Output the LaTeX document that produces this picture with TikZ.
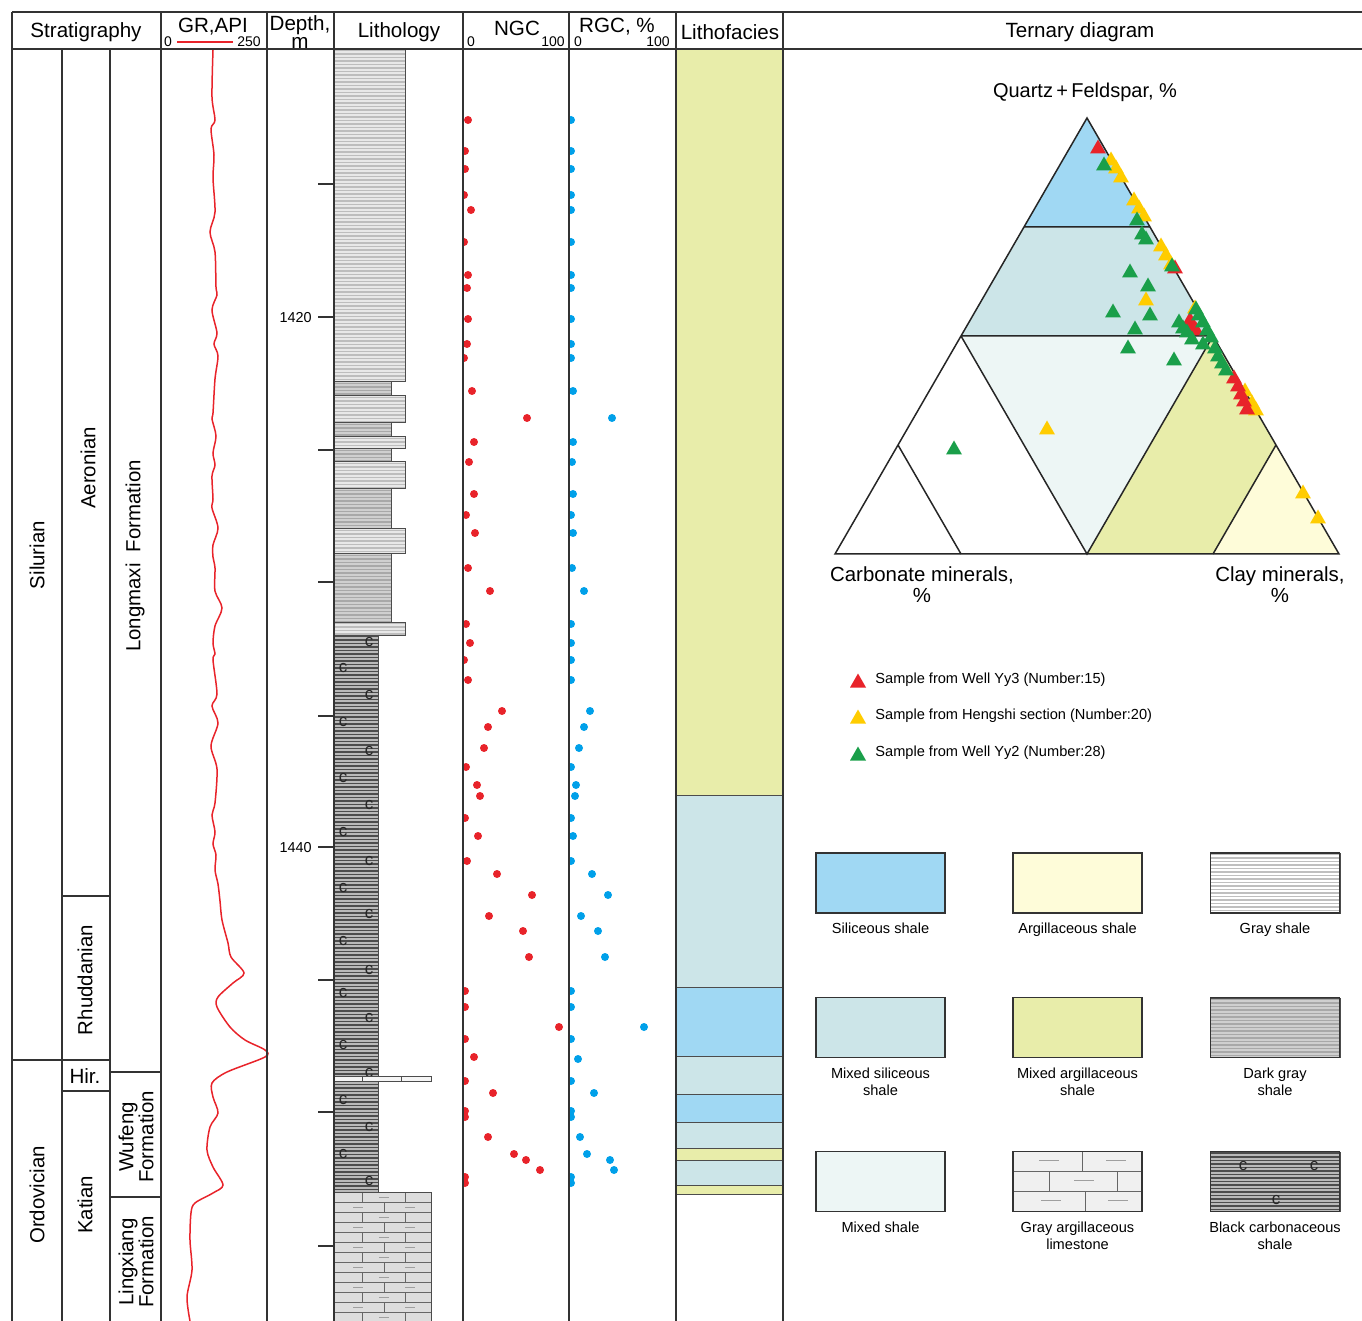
\documentclass[tikz,border=0pt]{standalone}
\usepackage{fontspec}
\setmainfont{Liberation Sans}
\usetikzlibrary{positioning}

\definecolor{silic}{HTML}{A0D8F3}
\definecolor{mixsil}{HTML}{CCE5E8}
\definecolor{mixsh}{HTML}{EDF6F5}
\definecolor{argil}{HTML}{FEFCD9}
\definecolor{mixarg}{HTML}{E8EDAA}
\definecolor{grred}{HTML}{E8232A}
\definecolor{rgcblue}{HTML}{00A0E9}
\definecolor{wellgreen}{HTML}{1A9F4A}
\definecolor{hsyellow}{HTML}{FFCC00}
\definecolor{limegray}{HTML}{DDDDDD}

\tikzset{
    frame/.style={draw=black!80, line width=0.75pt},
    bedline/.style={draw=black!70, line width=0.5pt},
    tline/.style={draw=black!85, line width=0.75pt},
    head/.style={font=\fontsize{10.3}{11}\selectfont, inner sep=0pt},
    scalenum/.style={font=\fontsize{7}{8}\selectfont, inner sep=0pt},
    depthnum/.style={font=\fontsize{7.2}{8}\selectfont, inner sep=0pt},
    unitname/.style={font=\fontsize{10.2}{10}\selectfont, inner sep=0pt, rotate=90, align=center},
    legtext/.style={font=\fontsize{7.3}{8.6}\selectfont, align=center, inner sep=0pt},
    legbox/.style={draw=black!80, line width=0.9pt, minimum width=64.5pt, minimum height=30pt, inner sep=0pt},
    cmark/.style={font=\fontsize{8.5}{9}\selectfont, inner sep=0pt, text=black!85},
    dot/.style={radius=2pt}
}

\newcommand{\shalebed}[6]{%
    \begin{scope}
        \clip (#1,#2) rectangle (#3,#4);
        \fill[#5] (#1,#2) rectangle (#3,#4);
        \pgfmathtruncatemacro{\shn}{(#4-#2-1)/3.5}
        \foreach \k in {0,...,\shn}
            \draw[#6, line width=0.6pt] (#1,#2+1.5+3.5*\k) -- (#3,#2+1.5+3.5*\k);
    \end{scope}
    \draw[bedline] (#1,#2) rectangle (#3,#4);
}
\newcommand{\samplemark}[3]{\fill[#1] (#2-8,#3+5.5) -- (#2+8,#3+5.5) -- (#2,#3-8.5) -- cycle;}

\begin{document}
\begin{tikzpicture}[x=0.5pt, y=-0.5pt]
\useasboundingbox (0,0) rectangle (1362,1321);

\foreach \ya/\yb/\fc in {49/795/mixarg, 795/987/mixsil, 987/1056/silic, 1056/1094/mixsil, 1094/1122/silic,
    1122/1148/mixsil, 1148/1160/mixarg, 1160/1185/mixsil, 1185/1194/mixarg}
    \draw[bedline, fill=\fc] (676,\ya) rectangle (783,\yb);

\foreach \ya/\yb in {49/382, 396/423, 437/449, 462/489, 529/554, 622/635}
    {\shalebed{334}{\ya}{405}{\yb}{gray!18}{gray!52}}
\foreach \ya/\yb in {382/396, 423/437, 449/462, 489/529, 554/622}
    {\shalebed{334}{\ya}{391}{\yb}{gray!38}{gray!68}}
\shalebed{334}{635}{378}{1192}{gray!55}{black!70}
\foreach \yy [count=\i] in {642, 695, 751, 805, 861, 914, 970, 1018, 1073, 1127, 1181}
    \node[cmark] (cr\i) at (369,\yy) {c};
\foreach \yy [count=\i] in {668, 722, 778, 832, 888, 941, 993, 1045, 1100, 1154}
    \node[cmark] (cl\i) at (343,\yy) {c};
\draw[bedline, fill=gray!8] (334,1076) rectangle (431,1081);
\draw[bedline] (362,1076) -- (362,1081) (401,1076) -- (401,1081);

\fill[limegray] (334,1192) rectangle (431,1330);
\foreach \yy in {1192,1202,...,1312}
    \draw[bedline, draw=black!60] (334,\yy) -- (431,\yy);
\foreach \yy in {1192,1212,...,1312} {
    \draw[bedline, draw=black!60] (362,\yy) -- (362,\yy+10) (405,\yy) -- (405,\yy+10);
    \draw[gray!75, line width=0.5pt] (379,\yy+5) -- (389,\yy+5);
}
\foreach \yy in {1202,1222,...,1302} {
    \draw[bedline, draw=black!60] (384,\yy) -- (384,\yy+10);
    \draw[gray!75, line width=0.5pt] (353,\yy+5) -- (363,\yy+5) (405,\yy+5) -- (415,\yy+5);
}
\draw[bedline] (334,1192) rectangle (431,1330);

\draw[grred, line width=0.75pt] plot[smooth, tension=0.5] coordinates {
    (213,50) (212,97) (215,120) (211,129) (214,155) (213,178) (215,212) (210,232) (215,252)
    (216,287) (217,295) (212,310) (217,333) (214,344) (218,356) (215,379) (213,413) (212,419)
    (216,436) (213,453) (215,465) (212,476) (213,499) (212,508) (218,528) (213,545) (213,557)
    (215,568) (215,591) (222,608) (215,626) (213,643) (215,654) (213,660) (217,694) (212,706)
    (218,723) (211,746) (217,769) (215,803) (212,815) (215,832) (213,844) (216,855) (215,870)
    (218,884) (220,901) (222,920) (228,943) (231,957) (244,973) (233,983) (218,997) (217,1007)
    (230,1027) (245,1040) (265,1050) (265,1057) (227,1072) (212,1083) (213,1097) (218,1113)
    (210,1127) (207,1150) (213,1167) (223,1185) (213,1193) (195,1203) (191,1213) (190,1240)
    (192,1270) (187,1297) (190,1321)};

\begin{scope}
    \clip (463.5,49) rectangle (569,1321);
    \foreach \dx/\dy in {468/120, 465/151, 465/169, 464/195, 471/210, 464/242, 468/275, 467/288, 468/319,
        467/344, 464/358, 472/391, 527/418, 474/442, 469/462, 474/494, 466/515, 475/533, 468/568, 490/591,
        466/624, 470/643, 464/660, 468/680, 502/711, 488/727, 484/748, 466/767, 477/785, 480/796, 465/818,
        478/836, 467/861, 497/874, 532/895, 489/916, 523/931, 529/957, 465/991, 465/1007, 559/1027,
        465/1039, 474/1057, 465/1081, 493/1093, 465/1111, 465/1117, 488/1137, 514/1154, 526/1160,
        540/1170, 465/1177, 465/1183}
        \fill[grred] (\dx,\dy) circle[dot];
\end{scope}
\begin{scope}
    \clip (569.5,49) rectangle (676,1321);
    \foreach \dx/\dy in {571/120, 571/151, 571/169, 571/195, 571/210, 571/242, 571/275, 571/288, 571/319,
        571/344, 571/358, 573/391, 612/418, 573/442, 572/462, 573/494, 571/515, 573/533, 572/568, 584/591,
        571/624, 571/643, 571/660, 571/680, 590/711, 584/727, 579/748, 571/767, 576/785, 575/796, 571/818,
        573/836, 571/861, 592/874, 608/895, 581/916, 598/931, 605/957, 571/991, 571/1007, 644/1027,
        571/1039, 578/1059, 571/1081, 594/1093, 571/1111, 571/1117, 580/1137, 587/1154, 610/1160,
        614/1170, 571/1177, 571/1183}
        \fill[rgcblue] (\dx,\dy) circle[dot];
\end{scope}

\foreach \yy in {184, 317, 450, 582, 716, 847, 980, 1112, 1246}
    \draw[frame] (318,\yy) -- (334,\yy);
\node[depthnum, anchor=east] (d1420) at (312,318) {1420};
\node[depthnum, anchor=east] (d1440) at (312,848) {1440};

\draw[frame] (12,12) -- (1362,12) (12,49) -- (1362,49);
\foreach \xx in {12, 161, 267, 334, 463, 569, 676, 783}
    \draw[frame] (\xx,12) -- (\xx,1321);
\foreach \xx in {62, 110}
    \draw[frame] (\xx,49) -- (\xx,1321);
\draw[frame] (12,1060) -- (110,1060) (62,896) -- (110,896) (62,1091) -- (110,1091)
    (110,1072) -- (161,1072) (110,1197) -- (161,1197);

\node[head] (strat) at (86,32) {Stratigraphy};
\node[head] (gr) at (213,27) {GR,API};
\node[scalenum] (gr0) at (168,42) {0};
\node[scalenum] (gr250) at (249,42) {250};
\draw[grred, line width=0.8pt, shorten <=2.6pt, shorten >=2.2pt] (gr0.east) -- (gr250.west);
\node[head, align=center, font=\fontsize{10.3}{9}\selectfont] (depth) at (300,32) {Depth,\\m};
\node[head] (litho) at (399,32) {Lithology};
\node[head] (ngc) at (517,28) {NGC};
\node[scalenum] (ngc0) at (471,42) {0};
\node[scalenum] (ngc100) at (553,42) {100};
\node[head] (rgc) at (617,27) {RGC, \%};
\node[scalenum] (rgc0) at (578,42) {0};
\node[scalenum] (rgc100) at (658,42) {100};
\node[head] (facies) at (730,32) {Lithofacies};
\node[head] (ternary) at (1080,32) {Ternary diagram};

\node[unitname] (silurian) at (37,555) {Silurian};
\node[unitname] (ordovician) at (37,1195) {Ordovician};
\node[unitname] (aeronian) at (88,468) {Aeronian};
\node[unitname] (rhuddanian) at (85,980) {Rhuddanian};
\node[head] (hir) at (85,1076) {Hir.};
\node[unitname] (katian) at (85,1205) {Katian};
\node[unitname] (longmaxi) at (135,556) {Longmaxi\ \ Formation};
\node[unitname] (wufeng) at (136,1137) {Wufeng\\Formation};
\node[unitname] (lingxiang) at (136,1262) {Lingxiang\\Formation};

\fill[silic] (1087,118) -- (1024,227) -- (1150,227) -- cycle;
\fill[mixsil] (1024,227) -- (1150,227) -- (1213,336) -- (961,336) -- cycle;
\fill[mixsh] (961,336) -- (1213,336) -- (1087,554) -- cycle;
\fill[mixarg] (1213,336) -- (1276,445) -- (1213,554) -- (1087,554) -- cycle;
\fill[argil] (1276,445) -- (1339,554) -- (1213,554) -- cycle;
\draw[tline] (1087,118) -- (835,554) -- (1339,554) -- cycle;
\draw[tline] (1024,227) -- (1150,227) (961,336) -- (1213,336)
    (961,336) -- (1087,554) -- (1213,336) (898,445) -- (961,554) (1276,445) -- (1213,554);

\foreach \mx/\my in {1111/160, 1116/168, 1121/177, 1134/200, 1139/208, 1144/216, 1161/246, 1166/255,
    1171/264, 1146/300, 1195/308, 1245/391, 1252/403, 1256/410, 1047/429, 1303/493, 1318/518}
    {\samplemark{hsyellow}{\mx}{\my}}
\foreach \mx/\my in {1098/148, 1175/268, 1192/326, 1196/330, 1234/378, 1238/386, 1241/394, 1244/401,
    1247/409, 1190/320}
    {\samplemark{grred}{\mx}{\my}}
\foreach \mx/\my in {1104/165, 1137/220, 1142/234, 1146/239, 1172/266, 1130/272, 1148/286, 1150/315,
    1113/312, 1135/329, 1128/348, 1174/360, 1179/322, 1187/332, 1196/309, 1199/315, 1203/322, 1207/330,
    1211/337, 1203/344, 1215/348, 1218/356, 1222/363, 1226/370, 954/449, 1183/328, 1192/339}
    {\samplemark{wellgreen}{\mx}{\my}}

\node[head, font=\fontsize{10}{11}\selectfont] (qf) at (1085,92) {Quartz\,+\,Feldspar, \%};
\node[head, align=center, font=\fontsize{10.2}{10.5}\selectfont] (carb) at (922,585) {Carbonate minerals,\\\%};
\node[head, align=center, font=\fontsize{10.2}{10.5}\selectfont] (clay) at (1280,585) {Clay minerals,\\\%};

\samplemark{grred}{858}{682}
\samplemark{hsyellow}{858}{718}
\samplemark{wellgreen}{858}{755}
\node[legtext, anchor=west] (yy3) at (875,680) {Sample from Well Yy3 (Number:15)};
\node[legtext, anchor=west] (hengshi) at (875,716) {Sample from Hengshi section (Number:20)};
\node[legtext, anchor=west] (yy2) at (875,753) {Sample from Well Yy2 (Number:28)};

\shalebed{1210}{853}{1340}{913}{white}{gray!50}
\shalebed{1210}{998}{1340}{1057}{gray!38}{gray!68}
\shalebed{1210}{1152}{1340}{1211}{gray!55}{black!70}
\node[cmark] (bc1) at (1243,1166) {c};
\node[cmark] (bc2) at (1314,1166) {c};
\node[cmark] (bc3) at (1276,1200) {c};
\fill[gray!12] (1013,1152) rectangle (1142,1211);
\draw[bedline, draw=black!60] (1013,1171) -- (1142,1171) (1013,1191) -- (1142,1191)
    (1082,1152) -- (1082,1171) (1049,1171) -- (1049,1191) (1117,1171) -- (1117,1191) (1085,1191) -- (1085,1211);
\draw[gray!75, line width=0.5pt] (1039,1160) -- (1059,1160) (1106,1160) -- (1126,1160) (1074,1180) -- (1094,1180)
    (1041,1200) -- (1061,1200) (1108,1200) -- (1128,1200);

\node[legbox, fill=silic] (silbox) at (880.5,883) {};
\node[legbox, fill=argil] (argbox) at (1077.5,883) {};
\node[legbox] (graybox) at (1275,883) {};
\node[legbox, fill=mixsil] (mixsilbox) at (880.5,1027.5) {};
\node[legbox, fill=mixarg] (mixargbox) at (1077.5,1027.5) {};
\node[legbox] (darkbox) at (1275,1027.5) {};
\node[legbox, fill=mixsh] (mixbox) at (880.5,1181.5) {};
\node[legbox] (limebox) at (1077.5,1181.5) {};
\node[legbox] (blackbox) at (1275,1181.5) {};

\node[legtext, below=4.5pt of silbox] (siltext) {Siliceous shale};
\node[legtext, below=4.5pt of argbox] (argtext) {Argillaceous shale};
\node[legtext, below=4.5pt of graybox] (graytext) {Gray shale};
\node[legtext, below=4.5pt of mixsilbox] (mixsiltext) {Mixed siliceous\\shale};
\node[legtext, below=4.5pt of mixargbox] (mixargtext) {Mixed argillaceous\\shale};
\node[legtext, below=4.5pt of darkbox] (darktext) {Dark gray\\shale};
\node[legtext, below=4.5pt of mixbox] (mixtext) {Mixed shale};
\node[legtext, below=4.5pt of limebox] (limetext) {Gray argillaceous\\limestone};
\node[legtext, below=4.5pt of blackbox] (blacktext) {Black carbonaceous\\shale};
\end{tikzpicture}
\end{document}
